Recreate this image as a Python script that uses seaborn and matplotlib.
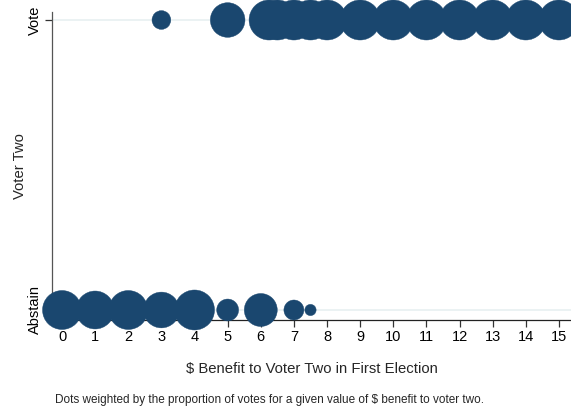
import matplotlib
matplotlib.use("Agg")
import matplotlib.pyplot as plt
import seaborn as sns
import pandas as pd

# Benefit values and dot weights (share of votes) for each outcome
abstain_benefit = [0, 1, 2, 3, 4, 5, 6, 7, 7.5]
abstain_weight = [0.95, 0.90, 0.95, 0.80, 1.00, 0.30, 0.68, 0.25, 0.08]

vote_benefit = [3, 5, 6.25, 6.5, 7, 7.5, 8, 9, 10, 11, 12, 13, 14, 15]
vote_weight = [0.22, 0.75, 1.0, 1.0, 1.0, 1.0, 1.0, 1.0, 1.0, 1.0, 1.0, 1.0, 1.0, 1.0]

outcome_labels = ["Abstain", "Vote"]
x_ticks = list(range(0, 16))

df = pd.concat([
    pd.DataFrame({"benefit": abstain_benefit, "outcome": 0, "weight": abstain_weight}),
    pd.DataFrame({"benefit": vote_benefit, "outcome": 1, "weight": vote_weight}),
], ignore_index=True)

sns.set_style("white")
plt.rcParams["font.family"] = ["Liberation Sans", "DejaVu Sans"]

navy = "#1a476f"
fig = plt.figure(figsize=(5.71, 4.11), dpi=100)
ax = fig.add_axes([52 / 571, 1 - 320 / 411, 1 - 52 / 571, (320 - 12) / 411])

# light reference lines at each outcome level
for yv in (0, 1):
    ax.axhline(yv, color="#e8f0f1", lw=1.2, zorder=0)

max_area = (1.44 * 20) ** 2
sns.scatterplot(data=df, x="benefit", y="outcome", size="weight",
                sizes=(0, max_area), size_norm=(0, 1),
                color=navy, edgecolor=navy, linewidth=0.3,
                legend=False, ax=ax, clip_on=False, zorder=3)

ax.set_xlim(-0.302, 15.364)
ax.set_ylim(-0.0345, 1.0276)
ax.set_xticks(x_ticks)
ax.set_xticklabels([str(t) for t in x_ticks], fontsize=10.5)
ax.set_yticks([0, 1])
ax.set_yticklabels(outcome_labels, fontsize=10.5, rotation=90, va="center")

for side in ("top", "right"):
    ax.spines[side].set_visible(False)
ax.spines["left"].set_color("#555555")
ax.spines["bottom"].set_color("#222222")
ax.spines["left"].set_linewidth(0.9)
ax.spines["bottom"].set_linewidth(0.9)
ax.tick_params(axis="both", direction="out", length=5, width=0.9, color="#333333",
               labelcolor="black", pad=2)
ax.tick_params(axis="x", bottom=True)
ax.tick_params(axis="y", left=True)

ax.set_xlabel("$ Benefit to Voter Two in First Election", fontsize=10.7, labelpad=13)
ax.set_ylabel("Voter Two", fontsize=10.7, labelpad=1)

fig.text(55 / 571, 1 - 400 / 411,
         "Dots weighted by the proportion of votes for a given value of $ benefit to voter two.",
         fontsize=8.5, ha="left", va="center")

fig.savefig("out.png", dpi=100)
